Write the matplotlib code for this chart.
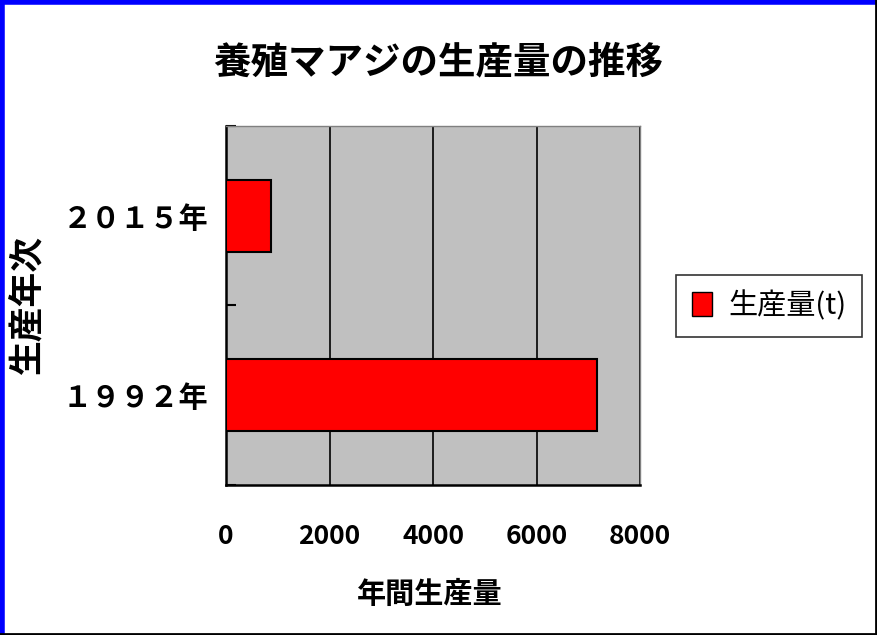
import matplotlib
matplotlib.use("Agg")
import matplotlib.pyplot as plt
from matplotlib.lines import Line2D
from matplotlib.patches import Patch

plt.rcParams["font.family"] = ["Noto Sans CJK JP", "DejaVu Sans"]

# data
years = ["１９９２年", "２０１５年"]
production = [7160, 870]
x_ticks = [0, 2000, 4000, 6000, 8000]

title = "養殖マアジの生産量の推移"
x_label = "年間生産量"
y_label = "生産年次"
series_name = "生産量(t)"

fig = plt.figure(figsize=(8.77, 6.35), dpi=100)
ax = fig.add_axes([0.2577, 0.2362, 0.4721, 0.5654])
ax.set_facecolor("#C0C0C0")

pos = list(range(len(years)))
ax.barh(pos, production, height=0.4, color="#FF0000", edgecolor="black",
        linewidth=1.5, zorder=3, label=series_name)

ax.set_xlim(0, 8000)
ax.set_ylim(-0.5, 1.5)
ax.set_xticks(x_ticks)
ax.set_xticklabels([str(v) for v in x_ticks], fontsize=19, fontweight="bold")
ax.tick_params(axis="x", length=0, pad=27)
ax.set_yticks(pos)
ax.set_yticklabels(years, fontsize=21, fontweight="bold")
ax.tick_params(axis="y", which="major", length=0, pad=13)
ax.set_yticks([-0.5, 0.5, 1.5], minor=True)
ax.tick_params(axis="y", which="minor", direction="in", length=7, width=1.5)

ax.grid(axis="x", color="black", linewidth=1.2, zorder=1)
ax.set_axisbelow(True)

for side in ["left", "bottom"]:
    ax.spines[side].set_color("black")
    ax.spines[side].set_linewidth(1.8)
for side in ["top", "right"]:
    ax.spines[side].set_color("#808080")
    ax.spines[side].set_linewidth(1.0)

fig.text(0.5, 0.902, title, ha="center", va="center", fontsize=27, fontweight="bold")
fig.text(0.49, 0.065, x_label, ha="center", va="center", fontsize=21, fontweight="bold")
fig.text(0.032, 0.521, y_label, ha="center", va="center", rotation=90,
         fontsize=25, fontweight="bold")

handle = Patch(facecolor="#FF0000", edgecolor="black", linewidth=1)
leg = fig.legend([handle], [series_name], loc="center", bbox_to_anchor=(0.877, 0.518),
                 fontsize=21, frameon=True, fancybox=False, edgecolor="black",
                 handlelength=0.7, handleheight=0.9, handletextpad=0.55,
                 borderpad=0.55, borderaxespad=0)
leg.get_frame().set_linewidth(1.2)

# window border
fig.add_artist(Line2D([0, 1], [0.997, 0.997], color="#0000FF", linewidth=4, transform=fig.transFigure))
fig.add_artist(Line2D([0.002, 0.002], [0, 1], color="#0000FF", linewidth=4, transform=fig.transFigure))
fig.add_artist(Line2D([0.999, 0.999], [0, 1], color="black", linewidth=2, transform=fig.transFigure))
fig.add_artist(Line2D([0, 1], [0.002, 0.002], color="black", linewidth=2, transform=fig.transFigure))

fig.savefig("out.png", dpi=100)
